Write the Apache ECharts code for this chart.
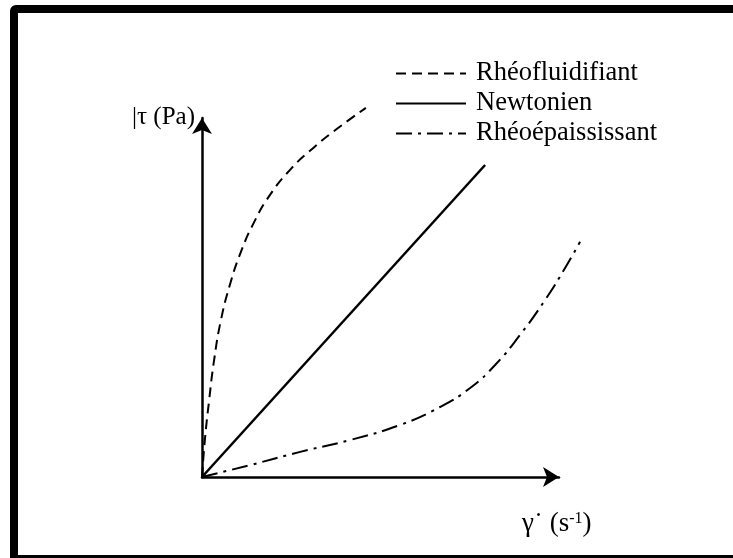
<!DOCTYPE html>
<html><head><meta charset="utf-8">
<script src="https://cdn.jsdelivr.net/npm/echarts@6/dist/echarts.min.js"></script>
<style>
html,body{margin:0;padding:0;width:733px;height:558px;overflow:hidden;background:#fff;}
#frame{position:absolute;left:10px;top:5px;width:800px;height:542px;border:8px solid #000;border-radius:6px 0 0 0;}
#chart{position:absolute;left:0;top:0;width:733px;height:558px;}
</style></head><body>
<div id="frame"></div>
<div id="chart"></div>
<script>
// Rheological behaviours: shear stress τ versus shear rate γ̇ (arbitrary units)
const seriesNames = ['Rhéofluidifiant', 'Newtonien', 'Rhéoépaississant'];
const shearThinning = [[0,0],[0.08,1.03],[0.20,2.14],[0.34,3.26],[0.53,4.37],[0.78,5.35],[1.09,6.27],[1.46,7.10],[1.90,7.85],[2.46,8.55],[3.11,9.16],[3.81,9.72],[4.59,10.28]];
const newtonian = [[0,0],[7.93,8.69]];
const shearThickening = [[0,0],[1.34,0.33],[2.75,0.70],[4.15,1.03],[5.55,1.45],[6.67,1.95],[7.51,2.48],[8.21,3.12],[8.91,3.96],[9.61,4.93],[10.17,5.82],[10.59,6.55]];
const yAxisTitle = '|τ (Pa)';
const xAxisTitle = ['γ˙ (s', '-1', ')'];

const serif = '"Liberation Serif", "DejaVu Serif", serif';
const chart = echarts.init(document.getElementById('chart'), null, {renderer: 'canvas'});

// The drawn x axis stops at 10 units; the curves share the same scale but may run past it.
const X_AXIS_END = 10, X_DATA_END = 11;
const gridLeft = 202, gridTop = 118, gridH = 359, axisW = 357;

const arrowLine = {show: true, onZero: false, symbol: ['none', 'arrow'], symbolSize: [15, 16],
  lineStyle: {color: '#000', width: 2.5}};
const bare = {axisTick: {show: false}, axisLabel: {show: false}, splitLine: {show: false}};

function curve(name, data, type, width) {
  return {
    name, type: 'line', data, smooth: 0.5, symbol: 'none', clip: false,
    xAxisIndex: 0, yAxisIndex: 0,
    lineStyle: {color: '#000', width, type}, itemStyle: {color: '#000'}, silent: true
  };
}

chart.setOption({
  animation: false,
  backgroundColor: 'transparent',
  grid: [
    {left: gridLeft, top: gridTop, width: axisW * X_DATA_END / X_AXIS_END, height: gridH},
    {left: gridLeft, top: gridTop, width: axisW, height: gridH}
  ],
  xAxis: [
    Object.assign({type: 'value', gridIndex: 0, min: 0, max: X_DATA_END, axisLine: {show: false}}, bare),
    Object.assign({type: 'value', gridIndex: 1, min: 0, max: X_AXIS_END, position: 'bottom', axisLine: arrowLine}, bare)
  ],
  yAxis: [
    Object.assign({type: 'value', gridIndex: 0, min: 0, max: 10, position: 'left', axisLine: arrowLine}, bare),
    Object.assign({type: 'value', gridIndex: 1, min: 0, max: 10, show: false}, bare)
  ],
  legend: {
    orient: 'vertical', left: 395, top: 60, padding: 0,
    itemWidth: 70, itemHeight: 14, itemGap: 3,
    data: seriesNames,
    itemStyle: {color: 'transparent', borderColor: 'transparent', borderWidth: 0, opacity: 0},
    textStyle: {fontFamily: serif, fontSize: 26.5, color: '#000', lineHeight: 26, padding: [0, 0, 0, 5]}
  },
  series: [
    curve(seriesNames[0], shearThinning, [10, 6], 2),
    curve(seriesNames[1], newtonian, 'solid', 2.5),
    curve(seriesNames[2], shearThickening, [16, 6, 3, 6], 2)
  ],
  graphic: [
    {type: 'text', x: 195, y: 117,
     style: {text: yAxisTitle, fill: '#000', font: '25px ' + serif, textAlign: 'right', textVerticalAlign: 'middle'}},
    {type: 'text', x: 522, y: 524,
     style: {text: '{b|' + xAxisTitle[0] + '}{s|' + xAxisTitle[1] + '}{b|' + xAxisTitle[2] + '}',
       textVerticalAlign: 'middle',
       rich: {
         b: {fontFamily: serif, fontSize: 27, color: '#000'},
         s: {fontFamily: serif, fontSize: 16, color: '#000', padding: [0, 0, 11, 0]}
       }}}
  ]
});
</script>
</body></html>
